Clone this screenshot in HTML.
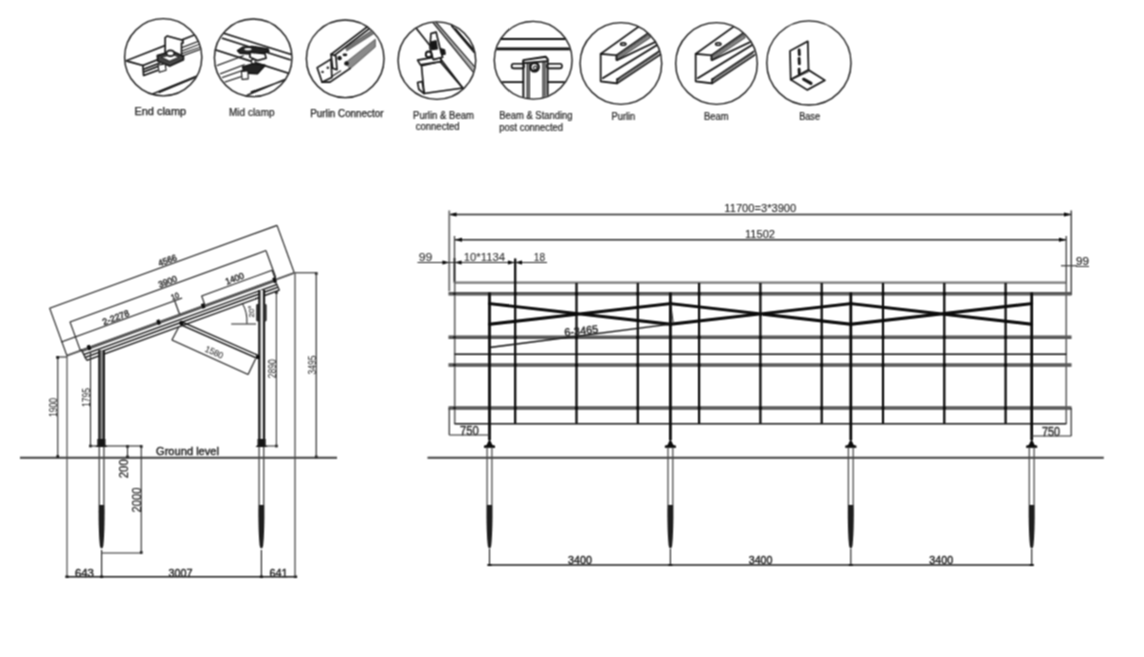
<!DOCTYPE html>
<html><head><meta charset="utf-8"><style>
html,body{margin:0;padding:0;background:#fff;}
svg{display:block;font-family:"Liberation Sans",sans-serif;}
</style></head><body>
<svg width="1144" height="657" viewBox="0 0 1144 657">
<defs><filter id="bl" x="0" y="0" width="1144" height="657" filterUnits="userSpaceOnUse" color-interpolation-filters="sRGB"><feConvolveMatrix order="3" kernelMatrix="1 2 1 2 4 2 1 2 1" divisor="16" edgeMode="duplicate" preserveAlpha="true"/><feComponentTransfer><feFuncR type="gamma" amplitude="1" exponent="1.2" offset="0"/><feFuncG type="gamma" amplitude="1" exponent="1.2" offset="0"/><feFuncB type="gamma" amplitude="1" exponent="1.2" offset="0"/></feComponentTransfer></filter></defs>
<rect width="1144" height="657" fill="#fff"/>
<g filter="url(#bl)">
<rect width="1144" height="657" fill="#fff"/>
<circle cx="163.2" cy="57.2" r="38.6" fill="none" stroke="#2a2a2a" stroke-width="1.35"/>
<circle cx="253.2" cy="57.85" r="38.8" fill="none" stroke="#2a2a2a" stroke-width="1.35"/>
<circle cx="345.2" cy="58.8" r="38.8" fill="none" stroke="#2a2a2a" stroke-width="1.35"/>
<circle cx="436.9" cy="60.6" r="38.8" fill="none" stroke="#2a2a2a" stroke-width="1.35"/>
<circle cx="533.2" cy="60.2" r="38.9" fill="none" stroke="#2a2a2a" stroke-width="1.35"/>
<circle cx="620.9" cy="63.5" r="40.8" fill="none" stroke="#2a2a2a" stroke-width="1.35"/>
<circle cx="716.5" cy="63.5" r="40.8" fill="none" stroke="#2a2a2a" stroke-width="1.35"/>
<circle cx="808.9" cy="62.9" r="42.1" fill="none" stroke="#2a2a2a" stroke-width="1.35"/>
<text x="160.30" y="115.00" font-size="11" text-anchor="middle" fill="#333" stroke="#333" stroke-width="0.25" textLength="51.6" lengthAdjust="spacingAndGlyphs">End clamp</text>
<text x="251.80" y="116.00" font-size="10" text-anchor="middle" fill="#333" stroke="#333" stroke-width="0.15" textLength="45.5" lengthAdjust="spacingAndGlyphs">Mid clamp</text>
<text x="346.80" y="116.50" font-size="11" text-anchor="middle" fill="#333" stroke="#333" stroke-width="0.25" textLength="73.3" lengthAdjust="spacingAndGlyphs">Purlin Connector</text>
<text x="443.50" y="118.50" font-size="10" text-anchor="middle" fill="#333" stroke="#333" stroke-width="0.15" textLength="60.9" lengthAdjust="spacingAndGlyphs">Purlin &amp; Beam</text>
<text x="437.70" y="130.00" font-size="10" text-anchor="middle" fill="#333" stroke="#333" stroke-width="0.15" textLength="43.8" lengthAdjust="spacingAndGlyphs">connected</text>
<text x="535.90" y="119.00" font-size="10" text-anchor="middle" fill="#333" stroke="#333" stroke-width="0.15" textLength="73.2" lengthAdjust="spacingAndGlyphs">Beam &amp; Standing</text>
<text x="531.20" y="131.00" font-size="10" text-anchor="middle" fill="#333" stroke="#333" stroke-width="0.15" textLength="63.7" lengthAdjust="spacingAndGlyphs">post connected</text>
<text x="623.40" y="120.40" font-size="10" text-anchor="middle" fill="#333" stroke="#333" stroke-width="0.15" textLength="23.8" lengthAdjust="spacingAndGlyphs">Purlin</text>
<text x="716.40" y="120.40" font-size="10" text-anchor="middle" fill="#333" stroke="#333" stroke-width="0.15" textLength="24.7" lengthAdjust="spacingAndGlyphs">Beam</text>
<text x="809.60" y="120.40" font-size="10" text-anchor="middle" fill="#333" stroke="#333" stroke-width="0.15" textLength="20.8" lengthAdjust="spacingAndGlyphs">Base</text>
<clipPath id="cp1"><circle cx="330" cy="330" r="292"/></clipPath>
<g transform="translate(120 14) scale(0.13089)" fill="none" stroke="#222" stroke-width="12" stroke-linejoin="round" stroke-linecap="round"><g clip-path="url(#cp1)">
<path d="M45 358 L345 240 M470 198 L600 148"/>
<path d="M55 360 L175 393 L180 470 L290 430"/>
<path d="M175 393 L345 326 M185 420 L300 376 M185 442 L300 398"/>
<path d="M470 258 L600 208 M478 280 L605 232 M475 302 L610 255 M470 322 L610 272" stroke-width="8"/>
<path d="M345 180 L360 168 L480 200 L482 222 L470 222 L470 335 L345 302 Z" fill="#fff"/>
<path d="M285 318 L400 285 L485 325 L485 350 L380 398 L290 362 Z" fill="#555"/>
<path d="M320 330 L400 308 L450 330 L380 360 Z" fill="#fff" stroke-width="6"/>
<ellipse cx="385" cy="300" rx="30" ry="22" fill="#fff" stroke-width="12"/>
<path d="M290 392 L345 380 L352 430 L300 445 Z" fill="#fff" stroke-width="8"/>
<path d="M250 610 L600 468 M300 598 L575 485" stroke-width="10"/>
<path d="M300 598 L575 485 L590 472 L310 588 Z" fill="#444" stroke-width="4"/>
</g></g>
<clipPath id="cp2"><circle cx="330" cy="327" r="293"/></clipPath>
<g transform="translate(210 15) scale(0.13089)" fill="none" stroke="#222" stroke-width="12" stroke-linejoin="round" stroke-linecap="round"><g clip-path="url(#cp2)">
<path d="M105 140 L615 300 M95 178 L612 342"/>
<path d="M45 268 L612 448"/>
<path d="M55 385 L255 312 M80 448 L262 380 M95 478 L258 420 M115 512 L242 470" stroke-width="8"/>
<path d="M211 272 L252 246 L322 240 L443 260 L449 278 L400 292 L340 300 L230 292 Z" fill="#333"/>
<ellipse cx="290" cy="262" rx="28" ry="9" fill="#fff" stroke="none"/>
<path d="M305 285 L420 295 L428 330 L362 348 L305 322 Z" fill="#fff"/>
<path d="M318 340 L345 340 L345 392 L318 392 Z" fill="#fff" stroke-width="8"/>
<path d="M250 398 L330 372 L420 385 L362 448 L262 442 Z" fill="#333"/>
<path d="M240 432 L290 425 L292 488 L245 492 Z" fill="#fff" stroke-width="8"/>
<path d="M285 612 L578 490 M315 588 L565 500" stroke-width="10"/>
</g></g>
<clipPath id="cp3"><circle cx="330" cy="327" r="293"/></clipPath>
<g transform="translate(302 16) scale(0.13089)" fill="none" stroke="#222" stroke-width="12" stroke-linejoin="round" stroke-linecap="round"><g clip-path="url(#cp3)">
<path d="M222 293 L500 82 M242 305 L510 100"/>
<path d="M336 240 L540 105 L552 132 L344 265 Z" fill="#888" stroke-width="4"/>
<path d="M336 354 L560 178 L560 236 L368 403 Z" fill="#999" stroke-width="4"/>
<path d="M222 293 L259 305 L267 411 L234 399 Z" fill="#fff"/>
<path d="M116 395 L222 330 L228 470 L153 505 Z" fill="#fff"/>
<circle cx="157" cy="427" r="9" fill="#333" stroke="none"/>
<circle cx="197" cy="395" r="9" fill="#333" stroke="none"/>
<path d="M153 505 L214 505 L368 400"/>
<path d="M230 460 L295 419" stroke-width="8"/>
<circle cx="287" cy="322" r="16" fill="#222" stroke="none"/>
<ellipse cx="328" cy="297" rx="18" ry="10" fill="#222" stroke="none"/>
<circle cx="340" cy="362" r="17" fill="#222" stroke="none"/>
</g></g>
<clipPath id="cp4"><circle cx="328" cy="325" r="293"/></clipPath>
<g transform="translate(394 18) scale(0.13089)" fill="none" stroke="#222" stroke-width="12" stroke-linejoin="round" stroke-linecap="round"><g clip-path="url(#cp4)">
<path d="M165 72 L360 318"/>
<path d="M300 38 L605 412 M322 34 L620 380" stroke-width="9"/>
<path d="M310 36 L612 396" stroke-width="8" stroke="#888"/>
<path d="M440 60 L612 262 M470 84 L604 238"/>
<path d="M360 318 L525 535"/>
<path d="M210 365 L352 332 L525 535 L230 577 Z" fill="#fff"/>
<path d="M180 322 L352 292 L362 332 L202 358 Z" fill="#fff" stroke-width="12"/>
<path d="M282 118 L322 108 L350 225 L372 300 L300 318 L275 230 Z" fill="#fff" stroke-width="12"/>
<path d="M280 185 L320 175 L330 235 L290 240 Z" fill="#222"/>
<path d="M355 235 L385 245 L390 275 L365 278 Z" fill="#222"/>
<circle cx="265" cy="278" r="22" fill="#fff" stroke-width="14"/>
<path d="M180 492 L215 485 L230 577 L190 545 Z" fill="#fff"/>
</g></g>
<clipPath id="cp5"><circle cx="330" cy="322" r="293"/></clipPath>
<g transform="translate(490 18) scale(0.13089)" fill="none" stroke="#222" stroke-width="12" stroke-linejoin="round" stroke-linecap="round"><g clip-path="url(#cp5)">
<path d="M0 160 L660 160" stroke-width="15"/>
<path d="M0 236 L660 236" stroke-width="20"/>
<path d="M0 490 L255 490 M440 490 L660 490"/>
<rect x="165" y="350" width="95" height="35" rx="17" fill="#fff"/>
<rect x="435" y="350" width="115" height="35" rx="17" fill="#fff"/>
<path d="M285 345 L285 640 M300 345 L300 640 M405 325 L405 640 M420 325 L420 640" stroke-width="9"/>
<path d="M255 330 L255 640 M440 320 L440 640" stroke-width="14"/>
<path d="M255 322 L425 296 L440 312 L440 330 L255 345 Z" fill="#fff" stroke-width="14"/>
<circle cx="340" cy="375" r="32" fill="#fff" stroke-width="18"/>
<circle cx="346" cy="380" r="13" fill="#fff" stroke-width="8"/>
</g></g>
<clipPath id="cp6"><circle cx="328" cy="325" r="297"/></clipPath>
<g transform="translate(576 19) scale(0.13699)" fill="none" stroke="#222" stroke-width="12" stroke-linejoin="round" stroke-linecap="round"><g clip-path="url(#cp6)">
<path d="M180 255 L455 58"/>
<path d="M295 300 L295 265 L180 255 L180 455 L300 470 L300 440 L312 436"/>
<path d="M295 265 L548 88"/>
<path d="M302 274 L530 114 L542 136 L308 292 Z" fill="#999" stroke-width="5"/>
<path d="M302 300 L575 170"/>
<path d="M195 432 L592 190"/>
<path d="M300 440 L605 236 M300 470 L612 262" stroke-width="11"/>
<path d="M312 448 L600 252" stroke-width="6"/>
<ellipse cx="345" cy="183" rx="20" ry="10" fill="#fff" stroke-width="10"/>
</g></g>
<clipPath id="cp7"><circle cx="328" cy="325" r="297"/></clipPath>
<g transform="translate(671 19) scale(0.13699)" fill="none" stroke="#222" stroke-width="12" stroke-linejoin="round" stroke-linecap="round"><g clip-path="url(#cp7)">
<path d="M180 255 L455 58"/>
<path d="M295 300 L295 265 L180 255 L180 455 L300 470 L300 440 L312 436"/>
<path d="M295 265 L548 88"/>
<path d="M302 274 L530 114 L542 136 L308 292 Z" fill="#999" stroke-width="5"/>
<path d="M302 300 L575 170"/>
<path d="M195 432 L592 190"/>
<path d="M300 440 L605 236 M300 470 L612 262" stroke-width="11"/>
<path d="M312 448 L600 252" stroke-width="6"/>
<ellipse cx="345" cy="183" rx="20" ry="10" fill="#fff" stroke-width="10"/>
</g></g>
<clipPath id="cp8"><circle cx="328" cy="328" r="305"/></clipPath>
<g transform="translate(764 18) scale(0.13699)" fill="none" stroke="#222" stroke-width="12" stroke-linejoin="round" stroke-linecap="round"><g clip-path="url(#cp8)">
<path d="M190 240 L320 170 L325 380 L195 450 Z" fill="#fff"/>
<path d="M195 450 L325 380 L445 455 L315 525 Z" fill="#fff"/>
<path d="M210 445 L325 392" stroke-width="6"/>
<path d="M256 232 L258 268 M256 294 L258 334 M256 374 L258 410" stroke-width="20"/>
<path d="M290 447 L343 477" stroke-width="22"/>
</g></g>
<g transform="translate(66.9 355.6) rotate(-20)">
<line x1="0.00" y1="0.00" x2="242.00" y2="0.00" stroke="#666" stroke-width="1.8"/>
<line x1="0.00" y1="-50.50" x2="242.00" y2="-50.50" stroke="#333" stroke-width="1.1"/>
<line x1="0.00" y1="-50.50" x2="0.00" y2="0.00" stroke="#333" stroke-width="1.1"/>
<line x1="242.00" y1="-50.50" x2="242.00" y2="0.00" stroke="#333" stroke-width="1.1"/>
<text x="127.00" y="-52.00" font-size="9" text-anchor="middle" fill="#333" stroke="#333" stroke-width="0.35" textLength="19" lengthAdjust="spacingAndGlyphs">4566</text>
<line x1="14.40" y1="-30.60" x2="223.00" y2="-30.60" stroke="#333" stroke-width="1.1"/>
<line x1="14.40" y1="-30.60" x2="14.40" y2="0.00" stroke="#333" stroke-width="1.1"/>
<line x1="223.00" y1="-30.60" x2="223.00" y2="-2.00" stroke="#333" stroke-width="1.1"/>
<text x="120.00" y="-32.00" font-size="9" text-anchor="middle" fill="#333" stroke="#333" stroke-width="0.35" textLength="19" lengthAdjust="spacingAndGlyphs">3900</text>
<line x1="-0.60" y1="-14.70" x2="128.00" y2="-14.70" stroke="#333" stroke-width="1.1"/>
<line x1="120.00" y1="-14.70" x2="120.00" y2="0.00" stroke="#333" stroke-width="1.1"/>
<text x="59.00" y="-16.00" font-size="9" text-anchor="middle" fill="#333" stroke="#333" stroke-width="0.35" textLength="28" lengthAdjust="spacingAndGlyphs">2-2278</text>
<text x="122.00" y="-16.00" font-size="8" text-anchor="middle" fill="#333" stroke="#333" stroke-width="0.35" textLength="8" lengthAdjust="spacingAndGlyphs">10</text>
<line x1="147.00" y1="-10.00" x2="222.00" y2="-10.00" stroke="#333" stroke-width="1.1"/>
<line x1="147.00" y1="-10.00" x2="147.00" y2="0.00" stroke="#333" stroke-width="1.1"/>
<line x1="222.00" y1="-10.00" x2="222.00" y2="0.00" stroke="#333" stroke-width="1.1"/>
<text x="184.00" y="-12.00" font-size="9" text-anchor="middle" fill="#333" stroke="#333" stroke-width="0.35" textLength="19" lengthAdjust="spacingAndGlyphs">1400</text>
<line x1="16.00" y1="0.60" x2="222.00" y2="0.60" stroke="#666" stroke-width="2.6"/>
<line x1="16.00" y1="4.90" x2="222.00" y2="4.90" stroke="#222" stroke-width="1.3"/>
<line x1="16.00" y1="7.90" x2="222.00" y2="7.90" stroke="#222" stroke-width="1.3"/>
<line x1="17.00" y1="11.20" x2="222.00" y2="11.20" stroke="#222" stroke-width="1.3"/>
<line x1="15.50" y1="-1.00" x2="17.00" y2="11.20" stroke="#333" stroke-width="1.2"/>
<line x1="221.00" y1="-1.00" x2="222.00" y2="11.20" stroke="#333" stroke-width="1.2"/>
<rect x="22.1" y="-2.5" width="3" height="5" fill="#111"/>
<rect x="96.1" y="-2.5" width="3" height="5" fill="#111"/>
<rect x="143.5" y="-2.5" width="3" height="5" fill="#111"/>
<rect x="219.5" y="-2.5" width="3" height="5" fill="#111"/>
</g>
<rect x="99.5" y="350" width="4.4" height="96" fill="#999"/>
<line x1="99.30" y1="350.00" x2="99.30" y2="446.00" stroke="#222" stroke-width="1.9"/>
<line x1="103.90" y1="350.00" x2="103.90" y2="446.00" stroke="#222" stroke-width="1.9"/>
<rect x="259.5" y="290" width="4.4" height="156" fill="#e8e8e8"/>
<line x1="259.30" y1="290.00" x2="259.30" y2="446.00" stroke="#222" stroke-width="2.0"/>
<line x1="264.10" y1="290.00" x2="264.10" y2="446.00" stroke="#222" stroke-width="2.0"/>
<rect x="256.3" y="304" width="3" height="17.5" rx="1.4" fill="#333"/>
<rect x="263.6" y="304" width="3" height="17.5" rx="1.4" fill="#3a3a3a"/>
<circle cx="181.5" cy="323" r="2.2" fill="#111"/>
<circle cx="257.8" cy="357" r="2" fill="#111"/>
<line x1="181.25" y1="321.60" x2="258.10" y2="355.40" stroke="#222" stroke-width="1.2"/>
<line x1="180.50" y1="324.60" x2="257.40" y2="358.40" stroke="#222" stroke-width="1.2"/>
<line x1="171.90" y1="340.00" x2="248.10" y2="374.40" stroke="#333" stroke-width="1.1"/>
<line x1="171.90" y1="340.00" x2="178.75" y2="326.90" stroke="#333" stroke-width="1.1"/>
<line x1="248.10" y1="374.40" x2="255.60" y2="358.75" stroke="#333" stroke-width="1.1"/>
<text x="213.00" y="355.00" font-size="9" text-anchor="middle" fill="#444" stroke="#444" stroke-width="0.05" textLength="19" lengthAdjust="spacingAndGlyphs" transform="rotate(24 213.00 355.00)">1580</text>
<line x1="231.25" y1="324.00" x2="256.00" y2="324.00" stroke="#666" stroke-width="1.3"/>
<path d="M242.5 303.8 Q247.5 312 246.9 323.75" fill="none" stroke="#333" stroke-width="1"/>
<text x="254.00" y="311.50" font-size="8" text-anchor="middle" fill="#777" stroke="#777" stroke-width="0.35" textLength="12" lengthAdjust="spacingAndGlyphs" transform="rotate(-90 254.00 311.50)">20°</text>
<path d="M97.4 439 L105.4 439 L105.4 445 L107.4 447 L95.4 447 L97.4 445 Z" fill="#222"/>
<path d="M257.6 439 L265.6 439 L265.6 445 L267.6 447 L255.60000000000002 447 L257.6 445 Z" fill="#222"/>
<line x1="99.30" y1="447.00" x2="99.30" y2="505.00" stroke="#666" stroke-width="1.4"/>
<line x1="103.90" y1="447.00" x2="103.90" y2="505.00" stroke="#666" stroke-width="1.4"/>
<path d="M98.69999999999999 505 C98.5 522 99.0 538 100.0 546 Q101.6 551 103.19999999999999 546 C104.19999999999999 538 104.69999999999999 522 104.5 505 Z" fill="#2a2a2a"/>
<line x1="101.60" y1="550.00" x2="101.60" y2="577.00" stroke="#333" stroke-width="1.1"/>
<line x1="259.10" y1="447.00" x2="259.10" y2="505.00" stroke="#666" stroke-width="1.4"/>
<line x1="263.70" y1="447.00" x2="263.70" y2="505.00" stroke="#666" stroke-width="1.4"/>
<path d="M258.5 505 C258.29999999999995 522 258.79999999999995 538 259.79999999999995 546 Q261.4 551 263.0 546 C264.0 538 264.5 522 264.29999999999995 505 Z" fill="#2a2a2a"/>
<line x1="261.40" y1="550.00" x2="261.40" y2="577.00" stroke="#333" stroke-width="1.1"/>
<line x1="20.00" y1="457.70" x2="337.00" y2="457.70" stroke="#555" stroke-width="1.9"/>
<line x1="57.75" y1="357.00" x2="57.75" y2="457.50" stroke="#444" stroke-width="1.1"/>
<line x1="56.00" y1="357.00" x2="67.00" y2="357.00" stroke="#444" stroke-width="1.1"/>
<rect x="56.45" y="356.2" width="2.6" height="2.6" fill="#222"/>
<rect x="56.45" y="455.2" width="2.6" height="2.6" fill="#222"/>
<rect x="89.2" y="444.7" width="2.6" height="2.6" fill="#222"/>
<rect x="126.2" y="445.2" width="2.6" height="2.6" fill="#222"/>
<rect x="126.2" y="455.5" width="2.6" height="2.6" fill="#222"/>
<rect x="139.95" y="445.2" width="2.6" height="2.6" fill="#222"/>
<rect x="139.95" y="551.2" width="2.6" height="2.6" fill="#222"/>
<rect x="275.09999999999997" y="291.2" width="2.6" height="2.6" fill="#222"/>
<rect x="275.09999999999997" y="444.7" width="2.6" height="2.6" fill="#222"/>
<rect x="314.95" y="272.2" width="2.6" height="2.6" fill="#222"/>
<rect x="314.95" y="455.5" width="2.6" height="2.6" fill="#222"/>
<text x="57.00" y="407.50" font-size="10" text-anchor="middle" fill="#444" stroke="#444" stroke-width="0" textLength="19" lengthAdjust="spacingAndGlyphs" transform="rotate(-90 57.00 407.50)">1900</text>
<line x1="67.00" y1="355.60" x2="67.00" y2="577.00" stroke="#555" stroke-width="1.1"/>
<line x1="90.50" y1="352.00" x2="90.50" y2="446.00" stroke="#444" stroke-width="1.1"/>
<line x1="90.50" y1="446.00" x2="98.00" y2="446.00" stroke="#444" stroke-width="1.1"/>
<text x="89.50" y="397.50" font-size="10" text-anchor="middle" fill="#444" stroke="#444" stroke-width="0" textLength="19" lengthAdjust="spacingAndGlyphs" transform="rotate(-90 89.50 397.50)">1795</text>
<line x1="104.00" y1="446.00" x2="141.25" y2="446.00" stroke="#333" stroke-width="1.1"/>
<line x1="127.50" y1="446.00" x2="127.50" y2="457.50" stroke="#444" stroke-width="1.1"/>
<text x="127.80" y="468.75" font-size="12" text-anchor="middle" fill="#333" stroke="#333" stroke-width="0.1" textLength="19" lengthAdjust="spacingAndGlyphs" transform="rotate(-90 127.80 468.75)">200</text>
<line x1="141.25" y1="446.00" x2="141.25" y2="553.00" stroke="#444" stroke-width="1.1"/>
<line x1="101.00" y1="553.00" x2="141.25" y2="553.00" stroke="#444" stroke-width="1.1"/>
<text x="141.30" y="500.00" font-size="12" text-anchor="middle" fill="#333" stroke="#333" stroke-width="0.1" textLength="25" lengthAdjust="spacingAndGlyphs" transform="rotate(-90 141.30 500.00)">2000</text>
<line x1="67.00" y1="576.75" x2="295.50" y2="576.75" stroke="#333" stroke-width="1.3"/>
<rect x="65.4" y="575.6" width="3.2" height="2.3" fill="#222"/>
<rect x="100.0" y="575.6" width="3.2" height="2.3" fill="#222"/>
<rect x="259.79999999999995" y="575.6" width="3.2" height="2.3" fill="#222"/>
<rect x="293.9" y="575.6" width="3.2" height="2.3" fill="#222"/>
<text x="84.40" y="577.30" font-size="11" text-anchor="middle" fill="#333" stroke="#333" stroke-width="0.35" textLength="19" lengthAdjust="spacingAndGlyphs">643</text>
<text x="180.60" y="577.30" font-size="11" text-anchor="middle" fill="#333" stroke="#333" stroke-width="0.35" textLength="24" lengthAdjust="spacingAndGlyphs">3007</text>
<text x="278.50" y="577.30" font-size="11" text-anchor="middle" fill="#333" stroke="#333" stroke-width="0.35" textLength="18" lengthAdjust="spacingAndGlyphs">641</text>
<line x1="276.40" y1="292.50" x2="276.40" y2="446.00" stroke="#555" stroke-width="1.1"/>
<line x1="265.00" y1="446.00" x2="276.40" y2="446.00" stroke="#555" stroke-width="1.1"/>
<text x="276.00" y="368.75" font-size="10" text-anchor="middle" fill="#444" stroke="#444" stroke-width="0" textLength="19" lengthAdjust="spacingAndGlyphs" transform="rotate(-90 276.00 368.75)">2890</text>
<line x1="316.25" y1="272.75" x2="316.25" y2="457.50" stroke="#555" stroke-width="1.3"/>
<line x1="295.00" y1="272.75" x2="316.25" y2="272.75" stroke="#555" stroke-width="1.2"/>
<text x="316.00" y="365.00" font-size="10" text-anchor="middle" fill="#444" stroke="#444" stroke-width="0" textLength="19" lengthAdjust="spacingAndGlyphs" transform="rotate(-90 316.00 365.00)">3495</text>
<line x1="295.00" y1="272.75" x2="295.00" y2="577.00" stroke="#555" stroke-width="1.2"/>
<text x="187.50" y="455.00" font-size="11" text-anchor="middle" fill="#333" stroke="#333" stroke-width="0.35" textLength="63" lengthAdjust="spacingAndGlyphs">Ground level</text>
<line x1="449.25" y1="214.50" x2="1071.25" y2="214.50" stroke="#444" stroke-width="1.3"/>
<path d="M449.5 214.5 L456.5 212.5 L456.5 216.5 Z" fill="#111"/>
<path d="M1071 214.5 L1064 212.5 L1064 216.5 Z" fill="#111"/>
<line x1="449.25" y1="210.50" x2="449.25" y2="291.25" stroke="#888" stroke-width="1.9"/>
<line x1="1071.25" y1="210.50" x2="1071.25" y2="295.00" stroke="#555" stroke-width="1.4"/>
<text x="760.30" y="212.30" font-size="11" text-anchor="middle" fill="#333" stroke="#333" stroke-width="0.05" textLength="71.9" lengthAdjust="spacingAndGlyphs">11700=3*3900</text>
<line x1="454.50" y1="239.75" x2="1066.25" y2="239.75" stroke="#444" stroke-width="1.3"/>
<path d="M455 239.75 L462 237.75 L462 241.75 Z" fill="#111"/>
<path d="M1066 239.75 L1059 237.75 L1059 241.75 Z" fill="#111"/>
<line x1="454.50" y1="236.00" x2="454.50" y2="281.00" stroke="#555" stroke-width="1.3"/>
<line x1="1066.25" y1="236.00" x2="1066.25" y2="283.00" stroke="#555" stroke-width="1.3"/>
<text x="760.00" y="238.00" font-size="11" text-anchor="middle" fill="#333" stroke="#333" stroke-width="0.05" textLength="30" lengthAdjust="spacingAndGlyphs">11502</text>
<line x1="417.50" y1="262.50" x2="547.00" y2="262.50" stroke="#444" stroke-width="1.2"/>
<path d="M449 262.5 L442.5 260.6 L442.5 264.4 Z" fill="#111"/>
<path d="M455 262.5 L461.5 260.6 L461.5 264.4 Z" fill="#111"/>
<path d="M514.5 262.5 L508.0 260.6 L508.0 264.4 Z" fill="#111"/>
<path d="M515.5 262.5 L522.0 260.6 L522.0 264.4 Z" fill="#111"/>
<line x1="454.50" y1="258.00" x2="454.50" y2="283.00" stroke="#222" stroke-width="1.6"/>
<text x="425.60" y="261.00" font-size="11" text-anchor="middle" fill="#444" stroke="#444" stroke-width="0.05" textLength="13.7" lengthAdjust="spacingAndGlyphs">99</text>
<text x="484.40" y="261.00" font-size="11" text-anchor="middle" fill="#444" stroke="#444" stroke-width="0.05" textLength="41.3" lengthAdjust="spacingAndGlyphs">10*1134</text>
<text x="539.40" y="261.00" font-size="11" text-anchor="middle" fill="#444" stroke="#444" stroke-width="0.05" textLength="11.3" lengthAdjust="spacingAndGlyphs">18</text>
<line x1="1061.00" y1="265.75" x2="1077.00" y2="265.75" stroke="#444" stroke-width="1.1"/>
<text x="1082.50" y="265.00" font-size="11" text-anchor="middle" fill="#333" stroke="#333" stroke-width="0.1" textLength="13" lengthAdjust="spacingAndGlyphs">99</text>
<line x1="1076.00" y1="266.50" x2="1089.00" y2="266.50" stroke="#555" stroke-width="1.0"/>
<line x1="454.50" y1="282.60" x2="1066.25" y2="282.60" stroke="#8a8a8a" stroke-width="2.3"/>
<line x1="454.70" y1="282.00" x2="454.70" y2="424.00" stroke="#777" stroke-width="1.6"/>
<line x1="1066.25" y1="282.00" x2="1066.25" y2="424.00" stroke="#777" stroke-width="1.6"/>
<line x1="454.50" y1="423.75" x2="1066.25" y2="423.75" stroke="#333" stroke-width="1.6"/>
<line x1="454.50" y1="354.30" x2="1066.25" y2="354.30" stroke="#222" stroke-width="1.6"/>
<line x1="448.50" y1="293.75" x2="1071.50" y2="293.75" stroke="#6a6a6a" stroke-width="3.6"/>
<circle cx="454.5" cy="293.75" r="1.3" fill="#222"/>
<line x1="448.50" y1="337.30" x2="1071.50" y2="337.30" stroke="#6a6a6a" stroke-width="3.6"/>
<circle cx="454.5" cy="337.3" r="1.3" fill="#222"/>
<line x1="448.50" y1="365.00" x2="1071.50" y2="365.00" stroke="#6a6a6a" stroke-width="3.6"/>
<circle cx="454.5" cy="365" r="1.3" fill="#222"/>
<line x1="448.50" y1="408.00" x2="1071.50" y2="408.00" stroke="#6a6a6a" stroke-width="3.6"/>
<circle cx="454.5" cy="408" r="1.3" fill="#222"/>
<line x1="515.20" y1="258.50" x2="515.20" y2="423.75" stroke="#111" stroke-width="2.1"/>
<circle cx="515.20" cy="293.75" r="1.5" fill="#111"/>
<circle cx="515.20" cy="337.3" r="1.5" fill="#111"/>
<circle cx="515.20" cy="365" r="1.5" fill="#111"/>
<circle cx="515.20" cy="408" r="1.5" fill="#111"/>
<line x1="576.50" y1="283.00" x2="576.50" y2="423.75" stroke="#111" stroke-width="2.1"/>
<circle cx="576.50" cy="293.75" r="1.5" fill="#111"/>
<circle cx="576.50" cy="337.3" r="1.5" fill="#111"/>
<circle cx="576.50" cy="365" r="1.5" fill="#111"/>
<circle cx="576.50" cy="408" r="1.5" fill="#111"/>
<line x1="637.80" y1="283.00" x2="637.80" y2="423.75" stroke="#111" stroke-width="2.1"/>
<circle cx="637.80" cy="293.75" r="1.5" fill="#111"/>
<circle cx="637.80" cy="337.3" r="1.5" fill="#111"/>
<circle cx="637.80" cy="365" r="1.5" fill="#111"/>
<circle cx="637.80" cy="408" r="1.5" fill="#111"/>
<line x1="699.10" y1="283.00" x2="699.10" y2="423.75" stroke="#111" stroke-width="2.1"/>
<circle cx="699.10" cy="293.75" r="1.5" fill="#111"/>
<circle cx="699.10" cy="337.3" r="1.5" fill="#111"/>
<circle cx="699.10" cy="365" r="1.5" fill="#111"/>
<circle cx="699.10" cy="408" r="1.5" fill="#111"/>
<line x1="760.40" y1="283.00" x2="760.40" y2="423.75" stroke="#111" stroke-width="2.1"/>
<circle cx="760.40" cy="293.75" r="1.5" fill="#111"/>
<circle cx="760.40" cy="337.3" r="1.5" fill="#111"/>
<circle cx="760.40" cy="365" r="1.5" fill="#111"/>
<circle cx="760.40" cy="408" r="1.5" fill="#111"/>
<line x1="821.70" y1="283.00" x2="821.70" y2="423.75" stroke="#111" stroke-width="2.1"/>
<circle cx="821.70" cy="293.75" r="1.5" fill="#111"/>
<circle cx="821.70" cy="337.3" r="1.5" fill="#111"/>
<circle cx="821.70" cy="365" r="1.5" fill="#111"/>
<circle cx="821.70" cy="408" r="1.5" fill="#111"/>
<line x1="883.00" y1="283.00" x2="883.00" y2="423.75" stroke="#111" stroke-width="2.1"/>
<circle cx="883.00" cy="293.75" r="1.5" fill="#111"/>
<circle cx="883.00" cy="337.3" r="1.5" fill="#111"/>
<circle cx="883.00" cy="365" r="1.5" fill="#111"/>
<circle cx="883.00" cy="408" r="1.5" fill="#111"/>
<line x1="944.30" y1="283.00" x2="944.30" y2="423.75" stroke="#111" stroke-width="2.1"/>
<circle cx="944.30" cy="293.75" r="1.5" fill="#111"/>
<circle cx="944.30" cy="337.3" r="1.5" fill="#111"/>
<circle cx="944.30" cy="365" r="1.5" fill="#111"/>
<circle cx="944.30" cy="408" r="1.5" fill="#111"/>
<line x1="1005.60" y1="283.00" x2="1005.60" y2="423.75" stroke="#111" stroke-width="2.1"/>
<circle cx="1005.60" cy="293.75" r="1.5" fill="#111"/>
<circle cx="1005.60" cy="337.3" r="1.5" fill="#111"/>
<circle cx="1005.60" cy="365" r="1.5" fill="#111"/>
<circle cx="1005.60" cy="408" r="1.5" fill="#111"/>
<line x1="489.50" y1="292.50" x2="489.50" y2="440.00" stroke="#111" stroke-width="2.6"/>
<line x1="670.40" y1="292.50" x2="670.40" y2="440.00" stroke="#111" stroke-width="2.6"/>
<line x1="850.80" y1="292.50" x2="850.80" y2="440.00" stroke="#111" stroke-width="2.6"/>
<line x1="1031.70" y1="292.50" x2="1031.70" y2="440.00" stroke="#111" stroke-width="2.6"/>
<path d="M489.5 303.6 L670.4 324.2 M489.5 324.2 L670.4 303.6" stroke="#111" stroke-width="2.9" stroke-linecap="round" fill="none"/>
<path d="M670.4 303.6 L850.8 324.2 M670.4 324.2 L850.8 303.6" stroke="#111" stroke-width="2.9" stroke-linecap="round" fill="none"/>
<path d="M850.8 303.6 L1031.7 324.2 M850.8 324.2 L1031.7 303.6" stroke="#111" stroke-width="2.9" stroke-linecap="round" fill="none"/>
<line x1="489.50" y1="347.50" x2="670.40" y2="324.20" stroke="#222" stroke-width="1.3"/>
<line x1="670.60" y1="303.60" x2="673.40" y2="324.20" stroke="#333" stroke-width="1.0"/>
<text x="581.60" y="334.50" font-size="11" text-anchor="middle" fill="#333" stroke="#333" stroke-width="0.35" textLength="34" lengthAdjust="spacingAndGlyphs" transform="rotate(-6 581.60 334.50)">6-3465</text>
<line x1="449.25" y1="408.00" x2="449.25" y2="435.00" stroke="#444" stroke-width="1.2"/>
<line x1="449.25" y1="435.00" x2="489.50" y2="435.00" stroke="#444" stroke-width="1.2"/>
<text x="469.40" y="435.00" font-size="12" text-anchor="middle" fill="#444" stroke="#444" stroke-width="0.35" textLength="18.8" lengthAdjust="spacingAndGlyphs">750</text>
<line x1="1071.20" y1="408.00" x2="1071.20" y2="436.00" stroke="#444" stroke-width="1.2"/>
<line x1="1031.70" y1="436.00" x2="1071.20" y2="436.00" stroke="#444" stroke-width="1.2"/>
<text x="1051.00" y="436.00" font-size="12" text-anchor="middle" fill="#444" stroke="#444" stroke-width="0.35" textLength="18" lengthAdjust="spacingAndGlyphs">750</text>
<path d="M489.5 439 L492.3 445 L495.0 445.8 L495.0 447.8 L484.0 447.8 L484.0 445.8 L486.7 445 Z" fill="#111"/>
<line x1="487.10" y1="448.00" x2="487.10" y2="505.00" stroke="#666" stroke-width="1.3"/>
<line x1="491.90" y1="448.00" x2="491.90" y2="505.00" stroke="#666" stroke-width="1.3"/>
<path d="M486.6 505 C486.4 522 486.9 538 487.9 546 Q489.5 551 491.1 546 C492.1 538 492.6 522 492.4 505 Z" fill="#2a2a2a"/>
<line x1="489.50" y1="549.00" x2="489.50" y2="565.00" stroke="#333" stroke-width="1.1"/>
<path d="M670.4 439 L673.1999999999999 445 L675.9 445.8 L675.9 447.8 L664.9 447.8 L664.9 445.8 L667.6 445 Z" fill="#111"/>
<line x1="668.00" y1="448.00" x2="668.00" y2="505.00" stroke="#666" stroke-width="1.3"/>
<line x1="672.80" y1="448.00" x2="672.80" y2="505.00" stroke="#666" stroke-width="1.3"/>
<path d="M667.5 505 C667.3 522 667.8 538 668.8 546 Q670.4 551 672.0 546 C673.0 538 673.5 522 673.3 505 Z" fill="#2a2a2a"/>
<line x1="670.40" y1="549.00" x2="670.40" y2="565.00" stroke="#333" stroke-width="1.1"/>
<path d="M850.8 439 L853.5999999999999 445 L856.3 445.8 L856.3 447.8 L845.3 447.8 L845.3 445.8 L848.0 445 Z" fill="#111"/>
<line x1="848.40" y1="448.00" x2="848.40" y2="505.00" stroke="#666" stroke-width="1.3"/>
<line x1="853.20" y1="448.00" x2="853.20" y2="505.00" stroke="#666" stroke-width="1.3"/>
<path d="M847.9 505 C847.6999999999999 522 848.1999999999999 538 849.1999999999999 546 Q850.8 551 852.4 546 C853.4 538 853.9 522 853.6999999999999 505 Z" fill="#2a2a2a"/>
<line x1="850.80" y1="549.00" x2="850.80" y2="565.00" stroke="#333" stroke-width="1.1"/>
<path d="M1031.7 439 L1034.5 445 L1037.2 445.8 L1037.2 447.8 L1026.2 447.8 L1026.2 445.8 L1028.9 445 Z" fill="#111"/>
<line x1="1029.30" y1="448.00" x2="1029.30" y2="505.00" stroke="#666" stroke-width="1.3"/>
<line x1="1034.10" y1="448.00" x2="1034.10" y2="505.00" stroke="#666" stroke-width="1.3"/>
<path d="M1028.8 505 C1028.6000000000001 522 1029.1000000000001 538 1030.1000000000001 546 Q1031.7 551 1033.3 546 C1034.3 538 1034.8 522 1034.6000000000001 505 Z" fill="#2a2a2a"/>
<line x1="1031.70" y1="549.00" x2="1031.70" y2="565.00" stroke="#333" stroke-width="1.1"/>
<line x1="427.50" y1="457.70" x2="1103.75" y2="457.70" stroke="#555" stroke-width="1.9"/>
<line x1="489.50" y1="565.00" x2="1031.70" y2="565.00" stroke="#333" stroke-width="1.3"/>
<rect x="487.5" y="564" width="4" height="2" fill="#222"/>
<rect x="668.4" y="564" width="4" height="2" fill="#222"/>
<rect x="848.8" y="564" width="4" height="2" fill="#222"/>
<rect x="1029.7" y="564" width="4" height="2" fill="#222"/>
<text x="579.95" y="564.00" font-size="11" text-anchor="middle" fill="#333" stroke="#333" stroke-width="0.35" textLength="23.8" lengthAdjust="spacingAndGlyphs">3400</text>
<text x="760.60" y="564.00" font-size="11" text-anchor="middle" fill="#333" stroke="#333" stroke-width="0.35" textLength="23.8" lengthAdjust="spacingAndGlyphs">3400</text>
<text x="941.25" y="564.00" font-size="11" text-anchor="middle" fill="#333" stroke="#333" stroke-width="0.35" textLength="23.8" lengthAdjust="spacingAndGlyphs">3400</text>
</g>
</svg></body></html>
